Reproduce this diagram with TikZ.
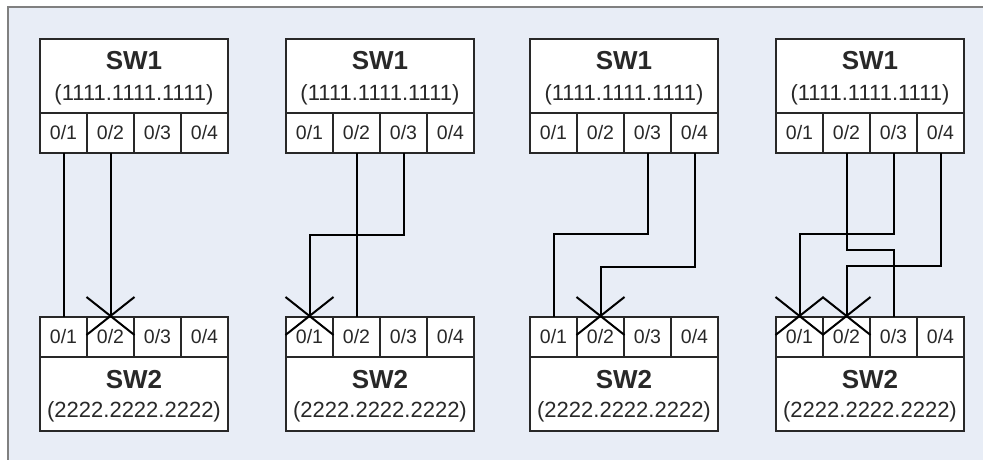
\documentclass[tikz,border=0pt]{standalone}
\usepackage{fontspec}
\setmainfont{Liberation Sans}
\usetikzlibrary{
    positioning
}
\definecolor{panelbg}{RGB}{232,237,246}
\definecolor{panelrim}{RGB}{128,128,128}
\definecolor{boxrim}{RGB}{40,40,40}
\definecolor{labeltext}{RGB}{40,40,40}
\tikzset{
    swbox/.style={draw=boxrim, fill=white, line width=1.6pt, inner sep=0pt, outer sep=0pt, minimum width=188pt},
    port/.style={draw=boxrim, fill=white, line width=1.6pt, inner sep=0pt, outer sep=0pt, minimum width=47pt, minimum height=40pt, text=labeltext, font=\fontsize{19.5}{22}\selectfont},
    swname/.style={anchor=base, inner sep=0pt, text=labeltext, font=\fontsize{26}{28}\selectfont\bfseries},
    swmac/.style={anchor=base, inner sep=0pt, text=labeltext, font=\fontsize{22}{25}\selectfont},
    link/.style={line width=2pt, black},
    blocked/.pic={\draw[line width=2pt, black] (-24pt,20pt) -- (24pt,-18pt) (24pt,20pt) -- (-24pt,-18pt);}
}

\begin{document}
\begin{tikzpicture}[x=1pt, y=-1pt]
    \useasboundingbox (0,0) rectangle (983,460);
    \fill[panelbg] (8,7) rectangle (983,460);
    \draw[panelrim, line width=2pt] (8,460) -- (8,7) -- (983,7);

    \foreach \i/\xo in {1/40, 2/286, 3/530, 4/776} {
        % SW1
        \node[swbox, minimum height=74pt, anchor=north west] (u\i) at (\xo,39) {};
        \node[swname] (u\i n) at ([yshift=-31pt]u\i.north) {SW1};
        \node[swmac] (u\i m) at ([yshift=-61pt]u\i.north) {(1111.1111.1111)};
        \node[port, anchor=north west] (u\i1) at (u\i.south west) {0/1};
        \foreach \p [count=\q from 1] in {2,3,4}
            \node[port, right=0pt of u\i\q] (u\i\p) {0/\p};
        % SW2
        \node[port, anchor=north west] (d\i1) at (\xo,317) {0/1};
        \foreach \p [count=\q from 1] in {2,3,4}
            \node[port, right=0pt of d\i\q] (d\i\p) {0/\p};
        \node[swbox, minimum height=74pt, anchor=north west] (d\i) at (d\i1.south west) {};
        \node[swname] (d\i n) at ([yshift=-31pt]d\i.north) {SW2};
        \node[swmac] (d\i m) at ([yshift=-60pt]d\i.north) {(2222.2222.2222)};
    }

    % case 1
    \draw[link] (u11.south) -- (d11.north);
    \draw[link] (u12.south) -- (d12.north);
    \pic at (d12.north) {blocked};

    % case 2
    \draw[link] (u22.south) -- (d22.north);
    \draw[link] (u23.south) -- ++(0,82) -| (d21.north);
    \pic at (d21.north) {blocked};

    % case 3
    \draw[link] (u33.south) -- ++(0,81) -| (d31.north);
    \draw[link] (u34.south) -- ++(0,114) -| (d32.north);
    \pic at (d32.north) {blocked};

    % case 4
    \draw[link] (u42.south) -- ++(0,97) -| (d43.north);
    \draw[link] (u43.south) -- ++(0,81) -| (d41.north);
    \draw[link] (u44.south) -- ++(0,113) -| (d42.north);
    \pic at (d41.north) {blocked};
    \pic at (d42.north) {blocked};
\end{tikzpicture}
\end{document}
